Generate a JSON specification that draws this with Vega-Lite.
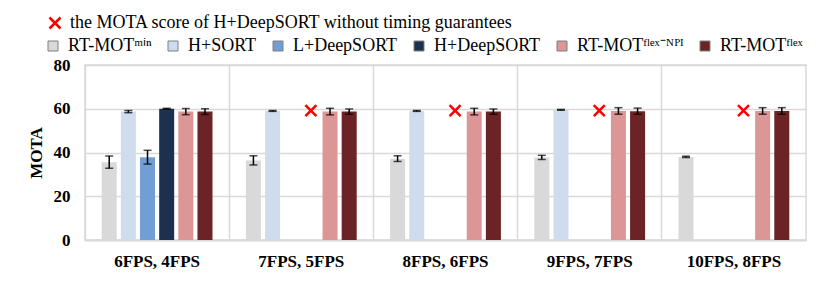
{
  "$schema": "https://vega.github.io/schema/vega-lite/v6.json",
  "width": 721,
  "height": 175,
  "autosize": {"type": "none"},
  "padding": {"left": 85, "top": 65, "right": 24, "bottom": 46},
  "background": "white",
  "config": {
    "font": "Liberation Serif",
    "view": {"stroke": "#d9d9d9", "strokeWidth": 1.5},
    "axis": {"labelFont": "Liberation Serif", "titleFont": "Liberation Serif", "labelColor": "black", "titleColor": "black"},
    "legend": {"labelFont": "Liberation Serif", "labelLimit": 700}
  },
  "datasets": {
    "bars": [
      {"grp": "6FPS, 4FPS", "series": "RT-MOTᵐⁱⁿ", "v": 35.6, "lo": 32.8, "hi": 38.4},
      {"grp": "6FPS, 4FPS", "series": "H+SORT", "v": 58.7, "lo": 58.2, "hi": 59.2},
      {"grp": "6FPS, 4FPS", "series": "L+DeepSORT", "v": 37.8, "lo": 34.7, "hi": 41.0},
      {"grp": "6FPS, 4FPS", "series": "H+DeepSORT", "v": 60.0, "lo": 59.8, "hi": 60.2},
      {"grp": "6FPS, 4FPS", "series": "RT-MOTᶠˡᵉˣ⁻ᴺᴾᴵ", "v": 58.7, "lo": 57.3, "hi": 60.1},
      {"grp": "6FPS, 4FPS", "series": "RT-MOTᶠˡᵉˣ", "v": 58.7, "lo": 57.4, "hi": 60.0},
      {"grp": "7FPS, 5FPS", "series": "RT-MOTᵐⁱⁿ", "v": 36.3, "lo": 34.3, "hi": 38.5},
      {"grp": "7FPS, 5FPS", "series": "H+SORT", "v": 59.0, "lo": 58.8, "hi": 59.2},
      {"grp": "7FPS, 5FPS", "series": "L+DeepSORT", "v": 0, "lo": null, "hi": null},
      {"grp": "7FPS, 5FPS", "series": "H+DeepSORT", "v": 0, "lo": null, "hi": null},
      {"grp": "7FPS, 5FPS", "series": "RT-MOTᶠˡᵉˣ⁻ᴺᴾᴵ", "v": 58.7, "lo": 57.2, "hi": 60.2},
      {"grp": "7FPS, 5FPS", "series": "RT-MOTᶠˡᵉˣ", "v": 58.7, "lo": 57.5, "hi": 59.9},
      {"grp": "8FPS, 6FPS", "series": "RT-MOTᵐⁱⁿ", "v": 37.1, "lo": 35.9, "hi": 38.5},
      {"grp": "8FPS, 6FPS", "series": "H+SORT", "v": 59.0, "lo": 58.8, "hi": 59.2},
      {"grp": "8FPS, 6FPS", "series": "L+DeepSORT", "v": 0, "lo": null, "hi": null},
      {"grp": "8FPS, 6FPS", "series": "H+DeepSORT", "v": 0, "lo": null, "hi": null},
      {"grp": "8FPS, 6FPS", "series": "RT-MOTᶠˡᵉˣ⁻ᴺᴾᴵ", "v": 58.7, "lo": 57.2, "hi": 60.2},
      {"grp": "8FPS, 6FPS", "series": "RT-MOTᶠˡᵉˣ", "v": 58.7, "lo": 57.5, "hi": 59.9},
      {"grp": "9FPS, 7FPS", "series": "RT-MOTᵐⁱⁿ", "v": 37.7, "lo": 36.8, "hi": 38.7},
      {"grp": "9FPS, 7FPS", "series": "H+SORT", "v": 59.5, "lo": 59.3, "hi": 59.7},
      {"grp": "9FPS, 7FPS", "series": "L+DeepSORT", "v": 0, "lo": null, "hi": null},
      {"grp": "9FPS, 7FPS", "series": "H+DeepSORT", "v": 0, "lo": null, "hi": null},
      {"grp": "9FPS, 7FPS", "series": "RT-MOTᶠˡᵉˣ⁻ᴺᴾᴵ", "v": 59.0, "lo": 57.5, "hi": 60.5},
      {"grp": "9FPS, 7FPS", "series": "RT-MOTᶠˡᵉˣ", "v": 58.9, "lo": 57.5, "hi": 60.3},
      {"grp": "10FPS, 8FPS", "series": "RT-MOTᵐⁱⁿ", "v": 38.0, "lo": 37.7, "hi": 38.3},
      {"grp": "10FPS, 8FPS", "series": "H+SORT", "v": 0, "lo": null, "hi": null},
      {"grp": "10FPS, 8FPS", "series": "L+DeepSORT", "v": 0, "lo": null, "hi": null},
      {"grp": "10FPS, 8FPS", "series": "H+DeepSORT", "v": 0, "lo": null, "hi": null},
      {"grp": "10FPS, 8FPS", "series": "RT-MOTᶠˡᵉˣ⁻ᴺᴾᴵ", "v": 59.0, "lo": 57.5, "hi": 60.5},
      {"grp": "10FPS, 8FPS", "series": "RT-MOTᶠˡᵉˣ", "v": 59.0, "lo": 57.5, "hi": 60.5}
    ],
    "marks": [
      {"grp": "7FPS, 5FPS", "series": "H+DeepSORT", "v": 59.1, "note": "the MOTA score of H+DeepSORT without timing guarantees"},
      {"grp": "8FPS, 6FPS", "series": "H+DeepSORT", "v": 59.1, "note": "the MOTA score of H+DeepSORT without timing guarantees"},
      {"grp": "9FPS, 7FPS", "series": "H+DeepSORT", "v": 59.1, "note": "the MOTA score of H+DeepSORT without timing guarantees"},
      {"grp": "10FPS, 8FPS", "series": "H+DeepSORT", "v": 59.1, "note": "the MOTA score of H+DeepSORT without timing guarantees"}
    ]
  },
  "encoding": {
    "x": {
      "field": "grp", "type": "nominal", "sort": null,
      "scale": {"domain": ["6FPS, 4FPS", "7FPS, 5FPS", "8FPS, 6FPS", "9FPS, 7FPS", "10FPS, 8FPS"], "paddingInner": 0, "paddingOuter": 0},
      "axis": {"title": null, "labelAngle": 0, "labelFontSize": 17, "labelFontWeight": "bold", "labelPadding": 13, "ticks": false, "grid": true, "bandPosition": 0, "gridColor": "#d9d9d9", "gridWidth": 1.5, "domainColor": "#d9d9d9", "domainWidth": 2}
    },
    "xOffset": {
      "field": "series", "type": "nominal",
      "scale": {"domain": ["RT-MOTᵐⁱⁿ", "H+SORT", "L+DeepSORT", "H+DeepSORT", "RT-MOTᶠˡᵉˣ⁻ᴺᴾᴵ", "RT-MOTᶠˡᵉˣ"], "paddingInner": 0.216, "paddingOuter": 0.872}
    }
  },
  "layer": [
    {
      "data": {"name": "bars"},
      "mark": {"type": "bar"},
      "encoding": {
        "y": {
          "field": "v", "type": "quantitative",
          "scale": {"domain": [0, 80], "nice": false},
          "axis": {"title": "MOTA", "titleFontSize": 17, "titleFontWeight": "bold", "titlePadding": 8, "values": [0, 20, 40, 60, 80], "labelFontSize": 17, "labelFontWeight": "bold", "labelPadding": 15, "ticks": false, "domain": false, "gridColor": "#d9d9d9", "gridWidth": 1.5}
        },
        "color": {
          "field": "series", "type": "nominal",
          "scale": {
            "domain": ["RT-MOTᵐⁱⁿ", "H+SORT", "L+DeepSORT", "H+DeepSORT", "RT-MOTᶠˡᵉˣ⁻ᴺᴾᴵ", "RT-MOTᶠˡᵉˣ"],
            "range": ["#d9d9d9", "#cfdcee", "#729fd3", "#1c304f", "#dd9696", "#6b2325"]
          },
          "legend": {
            "title": null, "orient": "none", "legendX": -41, "legendY": -28, "direction": "horizontal",
            "symbolType": "square", "symbolSize": 100, "symbolStrokeColor": "#7f7f7f", "symbolStrokeWidth": 1,
            "labelFontSize": 18, "labelFont": "Liberation Serif", "labelColor": "black", "labelOffset": 6, "columnPadding": 12, "padding": 0, "labelLimit": 700
          }
        }
      }
    },
    {
      "data": {"name": "bars"},
      "mark": {"type": "rule", "color": "black", "strokeWidth": 1.5},
      "encoding": {
        "y": {"field": "lo", "type": "quantitative"},
        "y2": {"field": "hi"}
      }
    },
    {
      "data": {"name": "bars"},
      "mark": {"type": "tick", "color": "black", "size": 8, "thickness": 1.5},
      "encoding": {"y": {"field": "lo", "type": "quantitative"}}
    },
    {
      "data": {"name": "bars"},
      "mark": {"type": "tick", "color": "black", "size": 8, "thickness": 1.5},
      "encoding": {"y": {"field": "hi", "type": "quantitative"}}
    },
    {
      "data": {"name": "marks"},
      "mark": {"type": "point", "filled": false, "color": "#ff0000", "strokeWidth": 2.5, "size": 121, "opacity": 1},
      "encoding": {
        "y": {"field": "v", "type": "quantitative"},
        "shape": {
          "field": "note", "type": "nominal",
          "scale": {"range": ["M-1,-1L1,1M1,-1L-1,1"]},
          "legend": {
            "title": null, "orient": "none", "legendX": -39, "legendY": -51,
            "symbolSize": 121, "symbolStrokeColor": "#ff0000", "symbolStrokeWidth": 2.5,
            "labelFontSize": 18, "labelFont": "Liberation Serif", "labelColor": "black", "labelOffset": 6, "padding": 0, "labelLimit": 700
          }
        }
      }
    }
  ]
}
